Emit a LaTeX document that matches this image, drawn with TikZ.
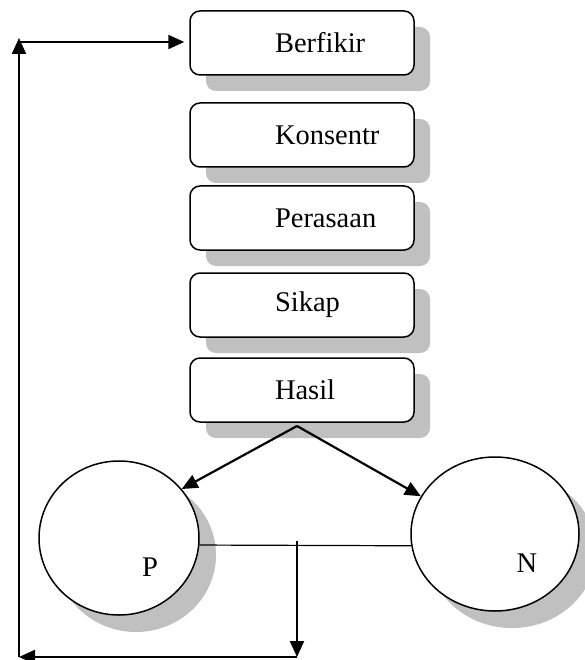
\documentclass[tikz,border=0pt]{standalone}
\usepackage{fontspec}
\setmainfont{Liberation Serif}
\usetikzlibrary{arrows.meta,shapes.geometric,shadows}

\definecolor{shadowgray}{HTML}{C0C0C0}

\tikzset{
  stage/.style={draw, line width=1.5pt, rounded corners=10pt, fill=white,
    text width=224pt, minimum height=64pt, inner xsep=0pt, align=left,
    execute at begin node={\hspace*{85pt}},
    general shadow={fill=shadowgray, shadow xshift=16pt, shadow yshift=-16pt}},
  outcome/.style={ellipse, draw, line width=1.5pt, fill=white, inner sep=0pt,
    general shadow={fill=shadowgray, shadow xshift=17pt, shadow yshift=-17pt}},
  flow/.style={line width=2.2pt, -{Triangle[length=16pt,width=14pt]}},
  link/.style={line width=1.2pt},
}

\begin{document}
\begin{tikzpicture}[x=1pt, y=-1pt, font=\fontsize{28.5}{33}\selectfont]
  \useasboundingbox (0,0) rectangle (585,660);

  % the five stages, stacked
  \node[stage] (berfikir) at (302,43)  {Berfikir};
  \node[stage] (konsentr) at (302,135) {Konsentr};
  \node[stage] (perasaan) at (302,218) {Perasaan};
  \node[stage] (sikap)    at (302,305) {Sikap};
  \node[stage] (hasil)    at (302,390) {Hasil};

  % the two outcomes
  \node[outcome, minimum width=160pt, minimum height=154pt,
        label={[xshift=31pt, yshift=-29pt]center:P}] (pos) at (119,538) {};
  \node[outcome, minimum width=168pt, minimum height=154pt,
        label={[xshift=32pt, yshift=-29pt]center:N}] (neg) at (495,534) {};

  % branching from the result
  \coordinate (apex) at (297,426);
  \draw[flow] (apex) -- (pos.38);
  \draw[flow] (apex) -- (neg.153);

  % joining line and the feedback loop back to the start
  \draw[link] (pos.-5) -- (neg.188);
  \coordinate (split) at (297,541);
  \coordinate (bottomright) at (297,657);
  \coordinate (bottomleft) at (19,657);
  \coordinate (topleft) at (19,42);
  \draw[flow] (split) -- (bottomright);
  \draw[flow] (bottomright) -- (bottomleft);
  \draw[flow] (bottomleft) -- ([yshift=4pt]topleft);
  \draw[flow, shorten >=5pt] (topleft) -- (berfikir.west |- topleft);
\end{tikzpicture}
\end{document}
